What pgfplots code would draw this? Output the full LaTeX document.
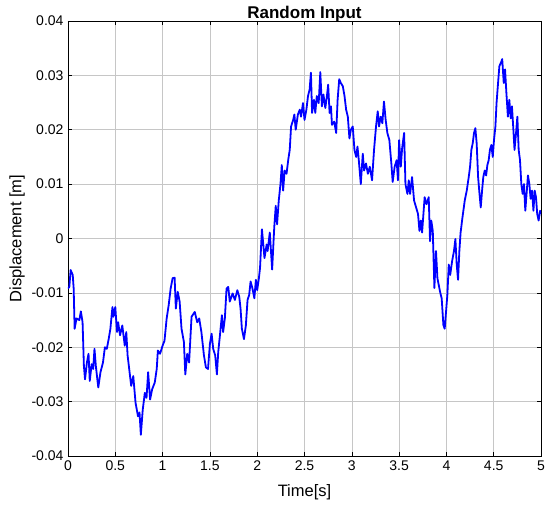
\documentclass[border=0pt]{standalone}
\usepackage{pgfplots}
\pgfplotsset{compat=1.18}
\usepackage{fontspec}
\setmainfont{Liberation Sans}

\begin{document}
\begin{tikzpicture}
\begin{axis}[
  scale only axis,
  width=473pt, height=435pt,
  xmin=0, xmax=5, ymin=-0.04, ymax=0.04,
  scaled y ticks=false,
  xtick={0,0.5,...,5},
  xticklabels={0,0.5,1,1.5,2,2.5,3,3.5,4,4.5,5},
  ytick={-0.04,-0.03,-0.02,-0.01,0,0.01,0.02,0.03,0.04},
  yticklabels={-0.04,-0.03,-0.02,-0.01,0,0.01,0.02,0.03,0.04},
  grid=major,
  grid style={gray!45, line width=0.5pt},
  axis line style={black, line width=0.6pt},
  tick align=inside,
  major tick length=4pt,
  tick style={black, line width=0.5pt},
  tick label style={font=\fontsize{14}{16}\selectfont},
  xticklabel style={yshift=-1pt},
  yticklabel style={xshift=-1pt},
  title={\fontsize{17}{19}\selectfont\bfseries Random Input},
  title style={at={(0.5,1)}, anchor=south, inner sep=2pt, yshift=-9pt},
  xlabel={Time[s]},
  ylabel={Displacement [m]},
  label style={font=\fontsize{16.5}{19}\selectfont},
  xlabel style={yshift=-7pt},
  ylabel style={yshift=0pt},
]
\addplot[blue, line width=1.8pt, line join=round] coordinates {
(0,-0.0092)(0.014,-0.0089)(0.028,-0.0058)(0.05,-0.0067)(0.06,-0.0092)(0.07,-0.0166)
(0.09,-0.0147)(0.12,-0.015)(0.136,-0.0134)(0.154,-0.0154)(0.168,-0.0234)(0.18,-0.0259)
(0.2,-0.0228)(0.217,-0.0212)(0.23,-0.0262)(0.25,-0.0231)(0.266,-0.024)(0.28,-0.0203)
(0.294,-0.0234)(0.32,-0.0274)(0.343,-0.0246)(0.37,-0.0228)(0.39,-0.02)(0.41,-0.0203)
(0.43,-0.0185)(0.448,-0.0166)(0.47,-0.0126)(0.48,-0.0144)(0.5,-0.0126)(0.518,-0.0172)
(0.53,-0.0154)(0.55,-0.0178)(0.574,-0.016)(0.6,-0.0197)(0.616,-0.0172)(0.63,-0.0215)
(0.668,-0.0271)(0.69,-0.0253)(0.714,-0.0302)(0.74,-0.0327)(0.756,-0.032)(0.77,-0.0361)
(0.79,-0.0315)(0.812,-0.0284)(0.83,-0.0293)(0.847,-0.0246)(0.868,-0.0296)(0.89,-0.0277)
(0.917,-0.0265)(0.938,-0.024)(0.95,-0.0206)(0.973,-0.0212)(1.0,-0.0197)(1.02,-0.0188)
(1.043,-0.0147)(1.064,-0.0123)(1.085,-0.0092)(1.106,-0.0073)(1.127,-0.0072)(1.14,-0.0129)
(1.16,-0.0098)(1.18,-0.0116)(1.2,-0.0166)(1.225,-0.019)(1.24,-0.025)(1.26,-0.0212)
(1.28,-0.0228)(1.306,-0.0144)(1.34,-0.0135)(1.366,-0.0154)(1.387,-0.0147)(1.41,-0.0172)
(1.437,-0.0215)(1.458,-0.0237)(1.48,-0.024)(1.5,-0.0194)(1.518,-0.0175)(1.535,-0.0203)
(1.556,-0.0215)(1.574,-0.025)(1.588,-0.0209)(1.606,-0.0178)(1.627,-0.0141)(1.64,-0.0172)
(1.658,-0.0147)(1.676,-0.0092)(1.694,-0.0089)(1.71,-0.0116)(1.74,-0.0101)(1.764,-0.0113)
(1.79,-0.0095)(1.81,-0.0107)(1.824,-0.0129)(1.838,-0.0166)(1.86,-0.0185)(1.88,-0.016)
(1.898,-0.0113)(1.915,-0.0104)(1.93,-0.0079)(1.95,-0.0092)(1.97,-0.011)(1.986,-0.0076)
(2.0,-0.0095)(2.018,-0.0073)(2.03,-0.0054)(2.05,0.0017)(2.077,-0.0036)(2.1,-0.0011)
(2.11,-0.0023)(2.133,0.0011)(2.158,-0.0057)(2.18,0.002)(2.196,0.006)(2.21,0.0026)
(2.228,0.007)(2.246,0.010)(2.26,0.0135)(2.274,0.0088)(2.29,0.0125)(2.31,0.0119)
(2.33,0.0147)(2.344,0.0163)(2.358,0.0206)(2.38,0.0218)(2.393,0.0228)(2.407,0.02)
(2.43,0.0228)(2.45,0.0237)(2.463,0.0224)(2.484,0.0249)(2.5,0.0218)(2.52,0.0237)
(2.537,0.0262)(2.554,0.0274)(2.568,0.0305)(2.58,0.0231)(2.6,0.0255)(2.614,0.0231)
(2.63,0.0262)(2.65,0.0249)(2.667,0.0306)(2.684,0.0243)(2.7,0.0265)(2.72,0.024)
(2.737,0.0262)(2.75,0.0283)(2.765,0.0231)(2.78,0.0243)(2.79,0.0209)(2.814,0.0215)
(2.835,0.0194)(2.85,0.0255)(2.867,0.0293)(2.884,0.0286)(2.905,0.028)(2.923,0.0262)
(2.94,0.0237)(2.958,0.0224)(2.975,0.0184)(2.99,0.02)(3.01,0.0206)(3.028,0.0163)
(3.046,0.015)(3.06,0.0169)(3.074,0.0144)(3.095,0.01)(3.116,0.0156)(3.13,0.0125)
(3.15,0.0138)(3.17,0.0119)(3.19,0.0132)(3.214,0.0107)(3.235,0.0163)(3.256,0.0206)
(3.274,0.0234)(3.288,0.0206)(3.305,0.0224)(3.323,0.0212)(3.34,0.0252)(3.358,0.0218)
(3.376,0.0194)(3.397,0.0181)(3.418,0.0138)(3.432,0.0104)(3.453,0.0132)(3.474,0.0144)
(3.488,0.0107)(3.5,0.0181)(3.518,0.0132)(3.532,0.0166)(3.553,0.0194)(3.567,0.01)
(3.588,0.0082)(3.602,0.0107)(3.616,0.0082)(3.637,0.0113)(3.658,0.007)(3.68,0.0057)
(3.7,0.0045)(3.715,0.0014)(3.73,0.0033)(3.743,0.0011)(3.757,0.0045)(3.77,0.0076)
(3.79,0.0063)(3.813,0.0076)(3.827,-0.0005)(3.84,0.0033)(3.856,0.0014)(3.873,-0.0091)
(3.89,-0.0023)(3.905,-0.0073)(3.933,-0.0098)(3.95,-0.011)(3.968,-0.0159)(3.982,-0.0166)
(3.996,-0.0135)(4.01,-0.0104)(4.025,-0.0048)(4.04,-0.0067)(4.06,-0.0042)(4.08,-0.0023)
(4.095,-0.0001)(4.109,-0.0048)(4.123,-0.0076)(4.137,-0.0023)(4.15,0.0011)(4.17,0.0039)
(4.194,0.007)(4.215,0.0088)(4.236,0.0113)(4.25,0.0132)(4.264,0.0163)(4.278,0.0175)
(4.292,0.0194)(4.306,0.0203)(4.32,0.0175)(4.335,0.0113)(4.35,0.0082)(4.363,0.0057)
(4.377,0.0088)(4.39,0.0113)(4.405,0.0125)(4.42,0.0116)(4.433,0.0135)(4.447,0.0144)
(4.46,0.0163)(4.475,0.0172)(4.49,0.015)(4.503,0.0181)(4.518,0.0206)(4.53,0.0249)
(4.546,0.0286)(4.56,0.0317)(4.58,0.0325)(4.59,0.033)(4.606,0.0286)(4.62,0.0311)
(4.634,0.0268)(4.65,0.0224)(4.665,0.0255)(4.68,0.0221)(4.693,0.0243)(4.708,0.02)
(4.72,0.0163)(4.736,0.0194)(4.75,0.0224)(4.764,0.0163)(4.778,0.0144)(4.792,0.01)
(4.806,0.0082)(4.82,0.01)(4.834,0.0051)(4.85,0.0088)(4.862,0.0116)(4.877,0.01)
(4.89,0.0073)(4.905,0.0088)(4.92,0.0051)(4.933,0.0088)(4.947,0.0076)(4.96,0.0045)
(4.975,0.0033)(4.99,0.0051)(5.0,0.0045)
};
\end{axis}
\path (current axis.south west) ++(-68pt,-49pt) coordinate (bbA);
\path (current axis.north east) ++(9pt,21pt) coordinate (bbB);
\useasboundingbox (bbA) rectangle (bbB);
\end{tikzpicture}
\end{document}
